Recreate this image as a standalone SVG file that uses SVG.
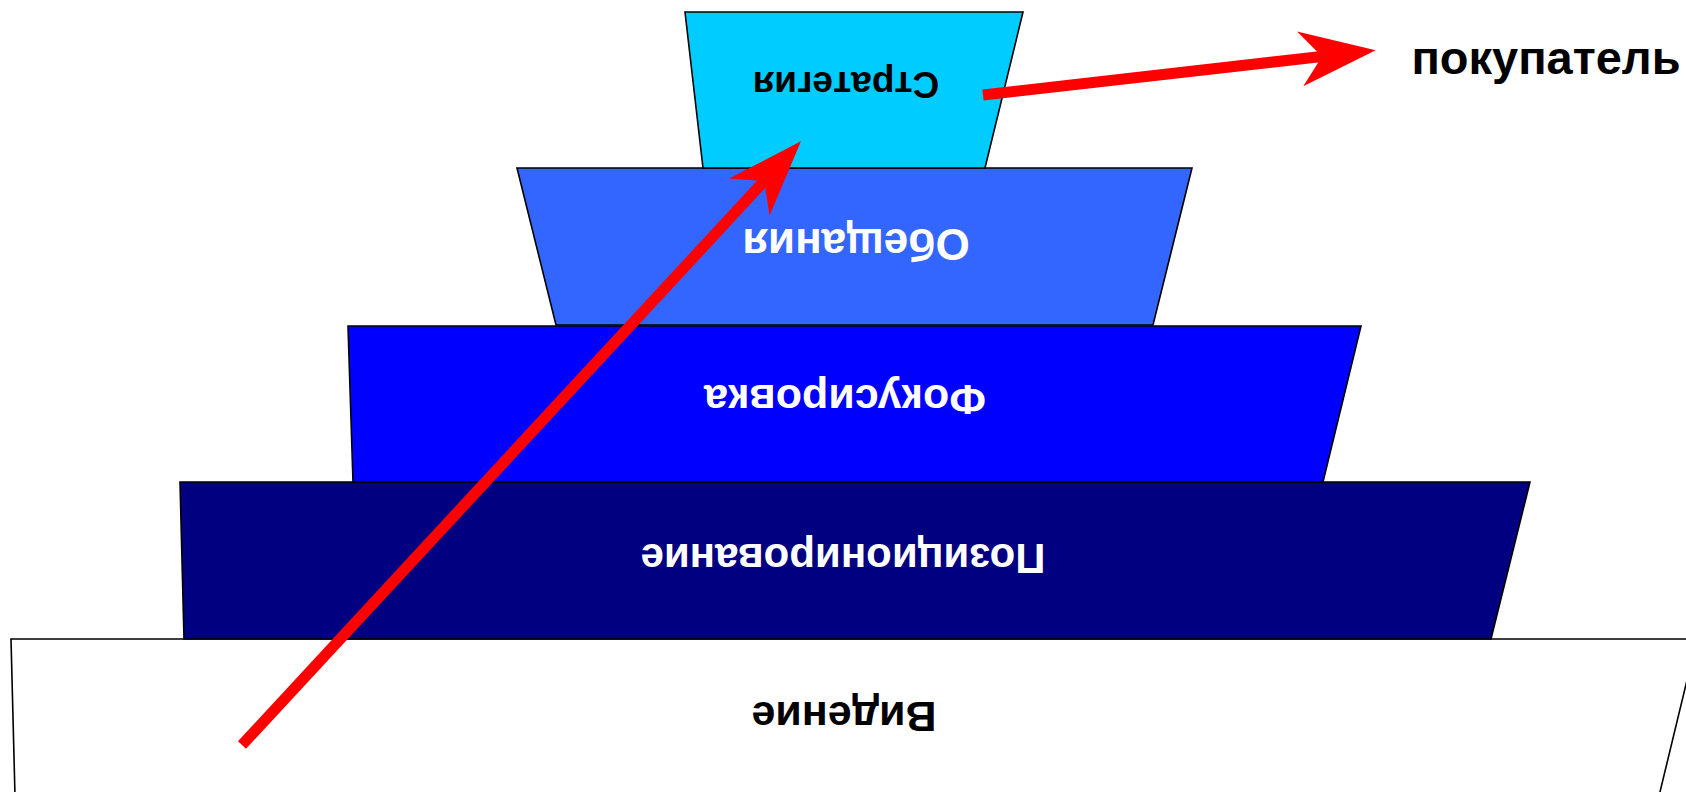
<svg xmlns="http://www.w3.org/2000/svg" width="1686" height="792" viewBox="0 0 1686 792">
  <style>
    .tier { stroke: #000000; stroke-width: 1.6; stroke-linejoin: miter; }
    .lbl { font-family: "Liberation Sans", Arial, sans-serif; font-weight: bold; text-anchor: middle; }
    .dark { fill: #000000; }
    .light { fill: #FFFFFF; }
    .arrow { stroke: #FF0000; stroke-width: 11; fill: none; stroke-linecap: butt; }
  </style>
  <defs>
    <marker id="head" markerUnits="userSpaceOnUse" viewBox="-30 -30 85 60" markerWidth="85" markerHeight="60" refX="0" refY="0" orient="auto" overflow="visible">
      <path d="M50,0 L-26,-27.5 L-4,0 L-26,27.5 Z" fill="#FF0000"/>
    </marker>
  </defs>
  <rect width="1686" height="792" fill="#FFFFFF"/>

  <!-- base tier -->
  <g id="vision">
    <polygon class="tier" fill="#FFFFFF" points="11,639 1697,639 1659,796 15,796"/>
    <text class="lbl dark" font-size="43" x="844" y="732" transform="rotate(180 844 717)">Видение</text>
  </g>

  <g id="positioning">
    <polygon class="tier" fill="#000080" points="180,482 1530,482 1491,639 184,639"/>
    <text class="lbl light" font-size="42" x="843" y="574" transform="rotate(180 843 559)">Позиционирование</text>
  </g>

  <g id="focusing">
    <polygon class="tier" fill="#0000FF" points="348,326 1361,326 1323,482 353,482"/>
    <text class="lbl light" font-size="43" x="845" y="415" transform="rotate(180 845 400)">Фокусировка</text>
  </g>

  <g id="promises">
    <polygon class="tier" fill="#3366FF" points="517,168 1192,168 1153,325 556,325"/>
    <text class="lbl light" font-size="44" x="856" y="259" transform="rotate(180 856 244)">Обещания</text>
  </g>

  <!-- top tier -->
  <g id="strategy">
    <polygon class="tier" fill="#00CCFF" points="685,12 1023,12 985,168 703,168"/>
    <text class="lbl dark" font-size="37" x="846" y="98" transform="rotate(180 846 85)">Стратегия</text>
  </g>

  <g id="buyer">
    <text class="lbl dark" font-size="47" x="1546" y="74">покупатель</text>
  </g>

  <g id="connectors">
    <line class="arrow" x1="242" y1="745" x2="767" y2="178" marker-end="url(#head)"/>
    <line class="arrow" x1="983" y1="95" x2="1326" y2="56" marker-end="url(#head)"/>
  </g>
</svg>
